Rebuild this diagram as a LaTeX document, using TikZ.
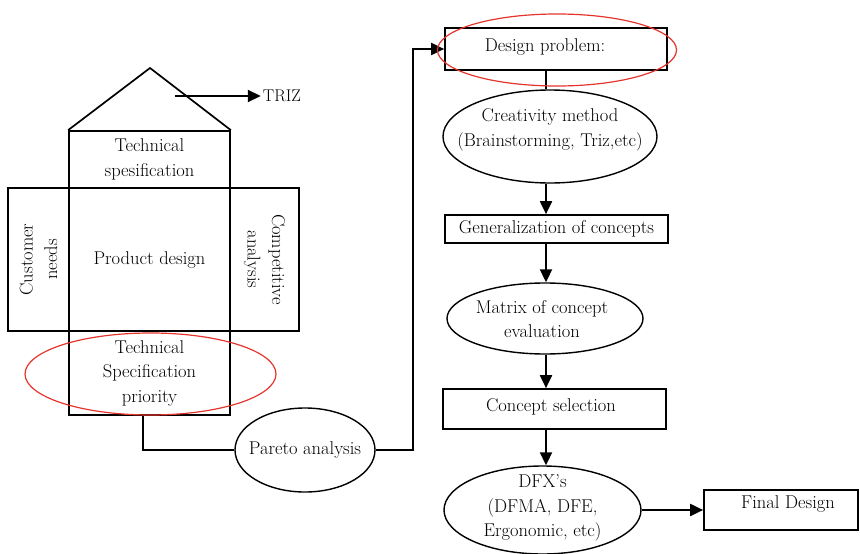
\documentclass[tikz,border=0pt]{standalone}
\usetikzlibrary{shapes.geometric,arrows.meta}
\definecolor{markred}{RGB}{228,52,44}
\begin{document}
\begin{tikzpicture}[x=1pt,y=-1pt,
  every node/.style={font=\fontsize{18.5}{24.5}\selectfont, align=center},
  box/.style={draw, rectangle, line width=1.7pt, inner sep=0pt},
  oval/.style={draw, ellipse, line width=1.4pt, inner sep=0pt},
  caption/.style={inner sep=0pt},
  link/.style={line width=1.4pt},
  arr/.style={line width=2pt, -{Triangle[length=13pt,width=12pt]}},
  redmark/.style={draw=markred, line width=1.2pt}]
\useasboundingbox (0,0) rectangle (860,554);

% house of quality
\node[box, minimum width=161pt, minimum height=57pt] (tspec) at (149.5,159.5) {Technical\\spesification};
\node[box, minimum width=161pt, minimum height=143pt] (pd) at (149.5,259.5) {Product design};
\node[box, minimum width=143pt, minimum height=61pt, rotate=90] (cn) at (38.5,259.5) {Customer\\needs};
\node[box, minimum width=143pt, minimum height=69pt, rotate=-90] (ca) at (264.5,259.5) {Competitive\\analysis};
\node[box, minimum width=161pt, minimum height=84pt] (tsp) at (149.5,373) {Technical\\Specification\\priority};
\coordinate (apex) at (150,68);
\draw[line width=1.7pt, line join=miter] (tspec.north west) -- (apex) -- (tspec.north east);

% roof output
\node[font=\fontsize{17}{20}\selectfont, inner sep=2pt] (triz) at (282,96) {TRIZ};
\coordinate (trizfrom) at (175,96);
\draw[arr] (trizfrom) -- (triz.west);

% Pareto step (outline and its caption)
\node[oval, minimum width=140pt, minimum height=84pt] (pareto) at (305,450) {};
\node[caption] (paretotxt) at (pareto.center) {Pareto analysis};
\draw[link] ([xshift=-6.5pt]tsp.south) |- (pareto.west);

% design flow
\node[box, minimum width=222pt, minimum height=42pt] (design) at (556,49) {};
\node[caption] (designtxt) at (545,47) {Design problem:};
\node[oval, minimum width=214pt, minimum height=93pt] (creat) at (550,136.5) {};
\node[caption] (creattxt) at (550,130) {Creativity method\\(Brainstorming, Triz,etc)};
\node[box, minimum width=223pt, minimum height=28pt] (gen) at (556.5,229) {Generalization of concepts};
\node[oval, minimum width=196pt, minimum height=71pt] (matrix) at (545,318.5) {};
\node[caption] (matrixtxt) at (542,319) {Matrix of concept\\evaluation};
\node[box, minimum width=223pt, minimum height=40pt] (sel) at (554.5,409) {};
\node[caption] (seltxt) at (551,407) {Concept selection};
\node[oval, minimum width=197pt, minimum height=88pt] (dfx) at (542.5,510) {};
\node[caption] (dfxtxt) at (542.5,508) {DFX's\\(DFMA, DFE,\\Ergonomic, etc)};
\node[box, minimum width=154pt, minimum height=40pt] (final) at (781,510) {};
\node[caption] (finaltxt) at (788,504) {Final Design};

\draw[arr] (pareto.east) -- ++(37,0) |- (design.west);

\coordinate (col) at (546,0);
\draw[link] (design.south -| col) -- (creat.north -| col);
\draw[arr] (creat.south -| col) -- (gen.north -| col);
\draw[arr] (gen.south -| col) -- (matrix.north -| col);
\draw[arr] (matrix.south -| col) -- (sel.north -| col);
\draw[arr] (sel.south -| col) -- (dfx.north -| col);
\draw[arr] (dfx.east) -- (final.west);

% highlights
\draw[redmark] (150.5,374) ellipse [x radius=125.5, y radius=41];
\draw[redmark] (557,50) ellipse [x radius=119.5, y radius=36];
\end{tikzpicture}
\end{document}
